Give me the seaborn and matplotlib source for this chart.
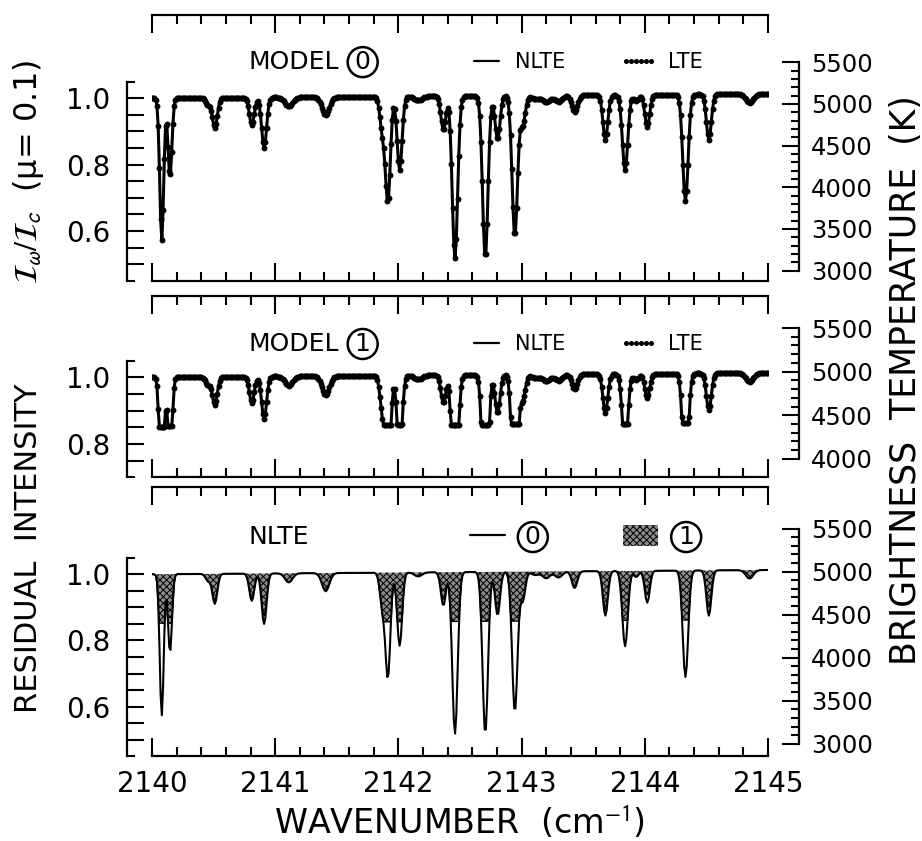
import numpy as np
import pandas as pd
import matplotlib
matplotlib.use("Agg")
import matplotlib.pyplot as plt
import seaborn as sns
from matplotlib.lines import Line2D
from matplotlib.patches import Patch
from matplotlib.ticker import MultipleLocator, FixedLocator, FixedFormatter

# ---------------- data ----------------
line_center = [2140.079, 2140.146, 2140.455, 2140.510, 2140.810, 2140.910, 2141.110, 2141.410,
               2141.870, 2141.915, 2142.010, 2142.160, 2142.365, 2142.459, 2142.705, 2142.805,
               2142.945, 2143.010, 2143.110, 2143.200, 2143.300, 2143.430, 2143.680, 2143.840,
               2143.930, 2144.020, 2144.330, 2144.520, 2144.850]
depth_model0 = [0.427, 0.236, 0.020, 0.090, 0.082, 0.152, 0.027, 0.053,
                0.100, 0.310, 0.220, 0.012, 0.100, 0.485, 0.485, 0.130,
                0.420, 0.085, 0.010, 0.020, 0.018, 0.050, 0.133, 0.225,
                0.018, 0.095, 0.318, 0.135, 0.025]
depth_model1 = [0.500, 0.300, 0.023, 0.083, 0.078, 0.128, 0.028, 0.056,
                0.100, 0.360, 0.240, 0.012, 0.083, 0.500, 0.500, 0.115,
                0.450, 0.072, 0.010, 0.020, 0.018, 0.045, 0.115, 0.230,
                0.018, 0.072, 0.330, 0.110, 0.025]
line_sigma = [0.016, 0.016, 0.020, 0.020, 0.020, 0.020, 0.030, 0.030,
              0.020, 0.020, 0.020, 0.030, 0.020, 0.022, 0.022, 0.020,
              0.022, 0.020, 0.030, 0.030, 0.030, 0.022, 0.020, 0.022,
              0.020, 0.020, 0.022, 0.020, 0.030]
continuum_wn = [2140.0, 2145.0]
continuum_level = [1.000, 1.013]
saturation_model1 = 0.852
wn_range = [2139.98, 2145.0]
wn_step = 0.01

# ---------------- build spectra ----------------
wn = np.round(np.arange(wn_range[0], wn_range[1] + 1e-9, wn_step), 3)
cont = np.interp(wn, continuum_wn, continuum_level)
c = np.array(line_center)[:, None]
s = np.array(line_sigma)[:, None]
prof = np.exp(-0.5 * ((wn[None, :] - c) / s) ** 2)
model0 = cont * (1 - (np.array(depth_model0)[:, None] * prof).sum(0))
model1 = cont * np.maximum(1 - (np.array(depth_model1)[:, None] * prof).sum(0), saturation_model1)
df = pd.DataFrame({"wn": wn, "m0": model0, "m1": model1, "cont": cont})

# ---------------- style ----------------
sns.set_theme(style="ticks")
plt.rcParams['font.family'] = ['DejaVu Sans', 'Noto Sans CJK JP']
plt.rcParams['mathtext.fontset'] = 'stixsans'
plt.rcParams['hatch.linewidth'] = 0.7
for key in ['axes.edgecolor', 'xtick.color', 'ytick.color', 'text.color', 'axes.labelcolor']:
    plt.rcParams[key] = 'black'

W, H = 922, 841
fig = plt.figure(figsize=(W / 100, H / 100), dpi=100)


def add_ax(top_px, bot_px):
    return fig.add_axes([152 / W, 1 - bot_px / H, 616 / W, (bot_px - top_px) / H])


def style(ax, ylim, lbound_lo, tcal, tbounds, show_xlabels):
    ax.set_xlim(2140, 2145)
    ax.set_ylim(*ylim)
    for sp in ['top', 'bottom']:
        ax.spines[sp].set_linewidth(1.6)
        ax.spines[sp].set_color('black')
    ax.spines['right'].set_visible(False)
    ax.spines['left'].set_position(('outward', 18))
    ax.spines['left'].set_bounds(lbound_lo, 1.05)
    ax.spines['left'].set_linewidth(1.6)
    ax.xaxis.set_major_locator(MultipleLocator(1))
    ax.xaxis.set_minor_locator(MultipleLocator(0.2))
    ax.tick_params(axis='x', which='both', direction='in', top=True, bottom=True,
                   width=1.5, labelbottom=show_xlabels, labelsize=20, pad=10)
    ax.tick_params(axis='x', which='major', length=13)
    ax.tick_params(axis='x', which='minor', length=6.5)
    major = np.round(np.arange(lbound_lo + 0.05, 1.0001, 0.05), 2)
    labels = [f"{v:.1f}" if np.isclose(v, [0.6, 0.8, 1.0]).any() else "" for v in major]
    ax.yaxis.set_major_locator(FixedLocator(major))
    ax.yaxis.set_major_formatter(FixedFormatter(labels))
    ax.yaxis.set_minor_locator(FixedLocator([lbound_lo, 1.05]))
    ax.tick_params(axis='y', which='both', direction='in', left=True, right=False,
                   width=1.5, labelsize=20, pad=12)
    ax.tick_params(axis='y', which='major', length=12)
    ax.tick_params(axis='y', which='minor', length=6)
    # brightness temperature twin axis
    i5000, k = tcal
    ax2 = ax.twinx()
    ax2.set_ylim(5000 + (ylim[0] - i5000) / k, 5000 + (ylim[1] - i5000) / k)
    for sp in ['top', 'bottom', 'left']:
        ax2.spines[sp].set_visible(False)
    ax2.spines['right'].set_position(('outward', 22))
    ax2.spines['right'].set_bounds(*tbounds)
    ax2.spines['right'].set_linewidth(1.6)
    ax2.spines['right'].set_color('black')
    ax2.yaxis.set_major_locator(FixedLocator(np.arange(tbounds[0], tbounds[1] + 1, 500)))
    ax2.yaxis.set_minor_locator(FixedLocator(np.arange(tbounds[0], tbounds[1] + 1, 100)))
    ax2.tick_params(axis='y', which='both', direction='in', right=True, left=False,
                    width=1.5, labelsize=17.5, pad=9)
    ax2.tick_params(axis='y', which='major', length=12)
    ax2.tick_params(axis='y', which='minor', length=6)
    ax2.grid(False)
    ax.grid(False)
    return ax2


circle_box = dict(boxstyle='circle,pad=0.12', fc='none', ec='black', lw=1.8)
stipple = dict(facecolor='#8c8c8c', edgecolor='black', hatch='xxxxx')

# ---------------- panel 1 : model 0 ----------------
ax1 = add_ax(15.3, 280.9)
style(ax1, (0.45, 1.25), 0.45, (0.983, 0.000251), (3000, 5500), False)
sns.lineplot(data=df, x="wn", y="m0", ax=ax1, color='black', lw=2.2, estimator=None, sort=False)
sns.scatterplot(data=df, x="wn", y="m0", ax=ax1, color='black', s=18, linewidth=0)
ax1.text(2140.78, 1.109, "MODEL", fontsize=18, va='center', ha='left')
ax1.text(2141.71, 1.109, "0", fontsize=18, va='center', ha='center', bbox=circle_box)

# ---------------- panel 2 : model 1 ----------------
ax2 = add_ax(295.7, 477.2)
style(ax2, (0.70, 1.245), 0.70, (1.017, 0.000262), (4000, 5500), False)
sns.lineplot(data=df, x="wn", y="m1", ax=ax2, color='black', lw=2.2, estimator=None, sort=False)
sns.scatterplot(data=df, x="wn", y="m1", ax=ax2, color='black', s=18, linewidth=0)
ax2.text(2140.78, 1.10, "MODEL", fontsize=18, va='center', ha='left')
ax2.text(2141.71, 1.10, "1", fontsize=18, va='center', ha='center', bbox=circle_box)

for ax, yfrac in [(ax1, 0.824), (ax2, 0.734)]:
    handles = [Line2D([0], [0], color='black', lw=1.6),
               Line2D([0], [0], ls='none', marker='o', ms=2.6, color='black')]
    ax.legend(handles, ['NLTE', 'LTE'], ncol=2, loc='center left', bbox_to_anchor=(0.512, yfrac),
              frameon=False, fontsize=15, numpoints=6, handlelength=1.8, handletextpad=0.5,
              columnspacing=2.6, borderpad=0, borderaxespad=0)

# ---------------- panel 3 : NLTE comparison ----------------
ax3 = add_ax(486.6, 756.3)
style(ax3, (0.45, 1.265), 0.45, (1.008, 0.00026), (3000, 5500), True)
ax3.fill_between(df["wn"], df["m1"], df["cont"], linewidth=0, **stipple)
sns.lineplot(data=df, x="wn", y="m1", ax=ax3, color='black', lw=0.9, estimator=None, sort=False)
sns.lineplot(data=df, x="wn", y="m0", ax=ax3, color='black', lw=1.5, estimator=None, sort=False)
ax3.text(2140.78, 1.113, "NLTE", fontsize=18, va='center', ha='left')
handles = [Line2D([0], [0], color='black', lw=1.6),
           Patch(lw=0, **stipple)]
leg = ax3.legend(handles, ['0', '1'], ncol=2, loc='center left', bbox_to_anchor=(0.516, 0.813),
                 frameon=False, fontsize=18, handlelength=1.4, handletextpad=0.8,
                 columnspacing=3.3, borderpad=0, borderaxespad=0, handleheight=0.9)
for t in leg.get_texts():
    t.set_bbox(circle_box)

for ax in (ax1, ax2, ax3):
    ax.set_ylabel("")
    ax.set_xlabel("")
ax3.set_xlabel("WAVENUMBER  (cm$^{-1}$)", fontsize=24, labelpad=5)

# ---------------- axis titles ----------------
fig.text(0.031, 1 - 548 / H, "RESIDUAL  INTENSITY", rotation=90, fontsize=22,
         ha='center', va='center')
fig.text(0.031, 1 - 172 / H, r"$\mathcal{I}_{\omega}/\mathcal{I}_{c}$  (μ= 0.1)", rotation=90,
         fontsize=23, ha='center', va='center')
fig.text(0.983, 1 - 380 / H, "BRIGHTNESS  TEMPERATURE  (K)", rotation=90, fontsize=25,
         ha='center', va='center')

fig.savefig("out.png", dpi=100)
